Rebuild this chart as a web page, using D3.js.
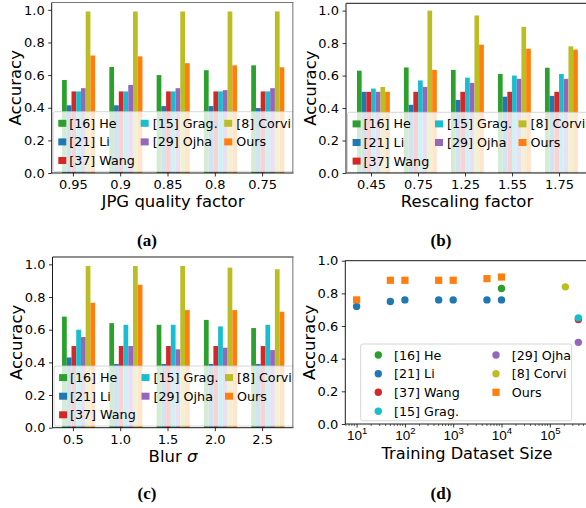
<!DOCTYPE html>
<html><head><meta charset="utf-8">
<script src="https://cdn.jsdelivr.net/npm/d3@7"></script>
<style>body{margin:0;background:#fff}svg{display:block;font-family:"DejaVu Sans",sans-serif}</style>
</head><body>
<svg id="chart" width="586" height="508"></svg>
<script>
// ---------- DATA ----------
const methods = ["[16] He", "[21] Li", "[37] Wang", "[15] Grag.", "[29] Ojha", "[8] Corvi", "Ours"];
const yTickValues = [0, 0.2, 0.4, 0.6, 0.8, 1.0];

const jpgLabels = ["0.95", "0.9", "0.85", "0.8", "0.75"];
const jpgAcc = [
  [0.57, 0.415, 0.50, 0.50, 0.52, 0.99, 0.72],
  [0.65, 0.415, 0.50, 0.50, 0.54, 0.99, 0.715],
  [0.60, 0.41, 0.50, 0.50, 0.52, 0.99, 0.673],
  [0.63, 0.41, 0.50, 0.50, 0.508, 0.99, 0.66],
  [0.66, 0.398, 0.50, 0.50, 0.52, 0.99, 0.648]
];

const rescaleLabels = ["0.45", "0.75", "1.25", "1.55", "1.75"];
const rescaleAcc = [
  [0.63, 0.50, 0.50, 0.52, 0.50, 0.53, 0.50],
  [0.65, 0.42, 0.50, 0.57, 0.53, 1.00, 0.635],
  [0.635, 0.45, 0.50, 0.587, 0.555, 0.97, 0.79],
  [0.61, 0.47, 0.50, 0.60, 0.58, 0.90, 0.765],
  [0.648, 0.475, 0.50, 0.61, 0.58, 0.78, 0.76]
];

const blurLabels = ["0.5", "1.0", "1.5", "2.0", "2.5"];
const blurAcc = [
  [0.68, 0.43, 0.50, 0.60, 0.555, 0.99, 0.765],
  [0.64, 0.39, 0.50, 0.63, 0.50, 0.99, 0.875],
  [0.63, 0.39, 0.50, 0.63, 0.48, 0.99, 0.72],
  [0.66, 0.39, 0.50, 0.62, 0.49, 0.98, 0.72],
  [0.61, 0.39, 0.50, 0.63, 0.475, 0.97, 0.71]
];

const sizeTickValues = [10, 100, 1000, 10000, 100000];
const sizeTickExps = ["1", "2", "3", "4", "5"];
const liSizes = [10, 50, 100, 500, 1000, 5000, 10000];
const liAcc = [0.72, 0.75, 0.76, 0.76, 0.76, 0.76, 0.76];
const oursSizes = [10, 50, 100, 500, 1000, 5000, 10000];
const oursAcc = [0.76, 0.88, 0.88, 0.88, 0.88, 0.89, 0.90];
const heSizes = [10000];
const heAcc = [0.83];
const corviSizes = [210000];
const corviAcc = [0.84];
const wangSizes = [390000];
const wangAcc = [0.64];
const gragSizes = [390000];
const gragAcc = [0.65];
const ojhaSizes = [390000];
const ojhaAcc = [0.50];

// ---------- STYLE ----------
const colors = ["#2ca02c", "#1f77b4", "#d62728", "#17becf", "#9467bd", "#bcbd22", "#ff7f0e"];
const svg = d3.select("#chart");
const defs = svg.append("defs");

function clip(id, x, y, w, h) {
  defs.append("clipPath").attr("id", id).append("rect").attr("x", x).attr("y", y).attr("width", w).attr("height", h);
  return "url(#" + id + ")";
}

function styleAxis(g) {
  g.selectAll(".domain").remove();
  g.selectAll(".tick line").attr("stroke", "#000").attr("stroke-width", 0.8);
  g.selectAll(".tick text").attr("font-size", 13).attr("fill", "#000").attr("font-family", "DejaVu Sans");
}

function barPanel(p) {
  const root = svg.append("g").attr("clip-path", clip(p.id, 0, p.clipTop, p.clipRight, 260));
  const y = d3.scaleLinear().domain([0, 1.045]).range([p.yB, p.yT]);
  // x in "group units": one unit = distance between groups; bar width 0.1 unit
  const x = d3.scaleLinear().domain([0, 1]).range([p.g0, p.g0 + p.step]);
  const bw = x(0.1) - x(0);
  const gBars = root.append("g");
  p.data.forEach((row, gi) => {
    gBars.selectAll(null).data(row).enter().append("rect")
      .attr("x", (d, j) => x(gi + j * 0.1) - bw / 2)
      .attr("width", bw)
      .attr("y", d => y(d))
      .attr("height", d => y(0) - y(d))
      .attr("fill", (d, j) => colors[j]);
  });
  // legend
  const lg = root.append("g");
  lg.append("rect").attr("x", p.xL + 1.5).attr("y", p.legTop).attr("width", 260).attr("height", 60)
    .attr("rx", 2).attr("fill", "#fff").attr("fill-opacity", 0.8).attr("stroke", "#ccc").attr("stroke-width", 0.8);
  const colSq = [6.6, 89, 172.5], colTx = [17.5, 101, 184.5], rowY = [11.6, 30.2, 48.8];
  const pos = [[0,0],[0,1],[0,2],[1,0],[1,1],[2,0],[2,1]];
  methods.forEach((m, i) => {
    const [c, r] = pos[i];
    lg.append("rect").attr("x", p.xL + colSq[c]).attr("y", p.legTop + rowY[r] - 3.5).attr("width", 8).attr("height", 7).attr("fill", colors[i]);
    lg.append("text").attr("x", p.xL + colTx[c]).attr("y", p.legTop + rowY[r] + 4.5).attr("font-size", 12.7).text(m);
  });
  // axes
  const ya = root.append("g").attr("transform", `translate(${p.xL},0)`)
    .call(d3.axisLeft(y).tickValues(yTickValues).tickFormat(d3.format(".1f")).tickSize(3.5).tickPadding(3.5));
  styleAxis(ya);
  const xa = root.append("g").attr("transform", `translate(0,${p.yB})`)
    .call(d3.axisBottom(x).tickValues(d3.range(5).map(i => i + p.tickOff)).tickFormat((d, i) => p.labels[i]).tickSize(3.5).tickPadding(3.5));
  styleAxis(xa);
  // spines
  root.append("line").attr("x1", p.xL).attr("x2", p.xL).attr("y1", p.yT).attr("y2", p.yB).attr("stroke", "#000").attr("stroke-width", 0.9);
  root.append("line").attr("x1", p.xL).attr("x2", 700).attr("y1", p.yB).attr("y2", p.yB).attr("stroke", "#000").attr("stroke-width", 0.9);
  root.append("line").attr("x1", p.xL).attr("x2", 700).attr("y1", p.yT).attr("y2", p.yT).attr("stroke", p.topCol).attr("stroke-width", 1.2);
  if (p.rightSpine) root.append("line").attr("x1", p.rightSpine).attr("x2", p.rightSpine).attr("y1", p.yT).attr("y2", p.yB).attr("stroke", "#777").attr("stroke-width", 1.4);
  // labels
  svg.append("text").attr("transform", `translate(${p.xL - 30.5},${(p.yT + p.yB) / 2}) rotate(-90)`)
    .attr("text-anchor", "middle").attr("font-size", 16.5).text("Accuracy");
  const t = svg.append("text").attr("x", p.titleX).attr("y", p.yB + 34).attr("text-anchor", "middle").attr("font-size", 16.5);
  if (p.title === "Blur") {
    t.append("tspan").text("Blur ");
    t.append("tspan").attr("font-style", "italic").text("σ");
  } else t.text(p.title);
}

barPanel({id: "ca", xL: 51.7, yT: 2.5, yB: 173, g0: 64.4, step: 47.3, tickOff: 0.18, clipTop: -5, clipRight: 293.5,
  data: jpgAcc, labels: jpgLabels, title: "JPG quality factor", titleX: 173, legTop: 111.7, topCol: "#777", rightSpine: 293});
barPanel({id: "cb", xL: 346, yT: 3.3, yB: 173, g0: 359.3, step: 47, tickOff: 0.25, clipTop: -5, clipRight: 586,
  data: rescaleAcc, labels: rescaleLabels, title: "Rescaling factor", titleX: 467, legTop: 112.3, topCol: "#444", rightSpine: null});
barPanel({id: "cc", xL: 52.5, yT: 257, yB: 427.7, g0: 64.4, step: 47.3, tickOff: 0.18, clipTop: 240, clipRight: 293.5,
  data: blurAcc, labels: blurLabels, title: "Blur", titleX: 173, legTop: 366, topCol: "#222", rightSpine: 293});

// ---------- PANEL D ----------
(function () {
  const xL = 345.3, yT = 260.7, yB = 424;
  const root = svg.append("g").attr("clip-path", clip("cd", 0, 240, 586, 260));
  const x = d3.scaleLog().domain([1, 1e5]).range([308.3, 308.3 + 5 * 48.3]);
  const y = d3.scaleLinear().domain([0, 1]).range([yB, yT]);
  const pts = [
    [heSizes, heAcc, colors[0]], [liSizes, liAcc, colors[1]],
    [corviSizes, corviAcc, colors[5]], [ojhaSizes, ojhaAcc, colors[4]],
    [wangSizes, wangAcc, colors[2]], [gragSizes, gragAcc, colors[3]]
  ];
  pts.forEach(([xs, ys, c]) => {
    root.selectAll(null).data(xs).enter().append("circle")
      .attr("cx", d => x(d)).attr("cy", (d, i) => y(ys[i])).attr("r", 3.7).attr("fill", c);
  });
  root.selectAll(null).data(oursSizes).enter().append("rect")
    .attr("x", d => x(d) - 3.6).attr("y", (d, i) => y(oursAcc[i]) - 3.6).attr("width", 7.2).attr("height", 7.2).attr("fill", colors[6]);
  // legend
  const lg = root.append("g");
  lg.append("rect").attr("x", 360.7).attr("y", 344).attr("width", 211).attr("height", 76.7).attr("rx", 2)
    .attr("fill", "#fff").attr("fill-opacity", 0.8).attr("stroke", "#ccc").attr("stroke-width", 0.8);
  const entries = [
    [0, 0, 0, "c"], [1, 0, 1, "c"], [2, 0, 2, "c"], [3, 0, 3, "c"],
    [4, 1, 0, "c"], [5, 1, 1, "c"], [6, 1, 2, "s"]
  ];
  const colM = [378.3, 496], colT = [394, 511.7], rows = [355, 373.7, 392.3, 411.2];
  entries.forEach(([mi, c, r, shape]) => {
    if (shape === "c") lg.append("circle").attr("cx", colM[c]).attr("cy", rows[r]).attr("r", 3.7).attr("fill", colors[mi]);
    else lg.append("rect").attr("x", colM[c] - 3.6).attr("y", rows[r] - 3.6).attr("width", 7.2).attr("height", 7.2).attr("fill", colors[mi]);
    lg.append("text").attr("x", colT[c]).attr("y", rows[r] + 4.5).attr("font-size", 12.7).text(methods[mi]);
  });
  // axes
  const ya = root.append("g").attr("transform", `translate(${xL},0)`)
    .call(d3.axisLeft(y).tickValues(yTickValues).tickFormat(d3.format(".1f")).tickSize(3.5).tickPadding(3.5));
  styleAxis(ya);
  const xa = root.append("g").attr("transform", `translate(0,${yB})`)
    .call(d3.axisBottom(x).tickValues(sizeTickValues).tickFormat("").tickSize(3.5).tickPadding(3.5));
  styleAxis(xa);
  xa.selectAll(".tick text").remove();
  xa.selectAll(".tick").each(function (d, i) {
    const t = d3.select(this).append("text").attr("y", 15.5).attr("text-anchor", "middle").attr("font-size", 13.5).attr("fill", "#000");
    t.append("tspan").text("10");
    t.append("tspan").attr("dy", -5.5).attr("font-size", 9.5).text(sizeTickExps[i]);
  });
  const minor = [];
  for (let e = 0; e < 6; e++) for (let k = 2; k <= 9; k++) minor.push(k * Math.pow(10, e));
  root.append("g").selectAll("line").data(minor.filter(v => x(v) > xL && x(v) < 586)).enter().append("line")
    .attr("x1", d => x(d)).attr("x2", d => x(d)).attr("y1", yB).attr("y2", yB + 2).attr("stroke", "#000").attr("stroke-width", 0.6);
  root.append("line").attr("x1", xL).attr("x2", xL).attr("y1", yT).attr("y2", yB).attr("stroke", "#000").attr("stroke-width", 0.9);
  root.append("line").attr("x1", xL).attr("x2", 700).attr("y1", yB).attr("y2", yB).attr("stroke", "#000").attr("stroke-width", 0.9);
  root.append("line").attr("x1", xL).attr("x2", 700).attr("y1", yT).attr("y2", yT).attr("stroke", "#000").attr("stroke-width", 0.9);
  svg.append("text").attr("transform", `translate(${xL - 30.5},${(yT + yB) / 2}) rotate(-90)`)
    .attr("text-anchor", "middle").attr("font-size", 16.5).text("Accuracy");
  svg.append("text").attr("x", 467).attr("y", yB + 35).attr("text-anchor", "middle").attr("font-size", 16.2).text("Training Dataset Size");
})();

// sub-captions
[["(a)", 147, 246], ["(b)", 441, 246], ["(c)", 147, 499], ["(d)", 441, 499]].forEach(([s, cx, cy]) => {
  svg.append("text").attr("x", cx).attr("y", cy).attr("text-anchor", "middle")
    .attr("font-family", "Liberation Serif, serif").attr("font-weight", "bold").attr("font-size", 17).text(s);
});
</script>
</body></html>
